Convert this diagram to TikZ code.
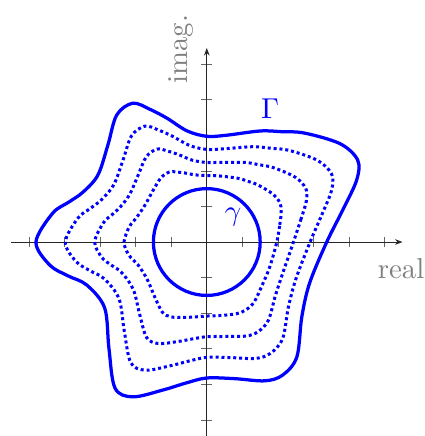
\documentclass[tikz,border=0pt]{standalone}
\usetikzlibrary{arrows.meta}
\tikzset{
  axisline/.style={line width=0.8pt, black!85, -{Stealth[length=6pt,width=4.5pt]}},
  ticklines/.style={line width=0.5pt, black!60},
  contour/.style={blue, line width=2.6pt},
  interp/.style={blue, line width=2.4pt, dash pattern=on 2.4pt off 2.3pt},
  axlabel/.style={black!50, scale=2.3, inner sep=0pt},
  curvelabel/.style={blue, scale=2.3, inner sep=0pt},
}
% point of Gamma, radially interpolated towards the circle of radius 1.5
\newcommand\Gpt[3]{({#1*(#3+1.5*(1-#3)/veclen(#1,#2))},{#2*(#3+1.5*(1-#3)/veclen(#1,#2))})}
\newcommand\Gpts[1]{%
  \Gpt{3.37}{0}{#1} \Gpt{3.82}{0.90}{#1} \Gpt{4.21}{1.74}{#1} \Gpt{4.24}{2.30}{#1}
  \Gpt{3.75}{2.76}{#1} \Gpt{2.75}{3.06}{#1} \Gpt{2.1}{3.1}{#1} \Gpt{1.5}{3.12}{#1}
  \Gpt{0.55}{3.0}{#1} \Gpt{0}{2.97}{#1} \Gpt{-0.55}{3.12}{#1} \Gpt{-1.12}{3.48}{#1}
  \Gpt{-1.6}{3.73}{#1} \Gpt{-2.08}{3.9}{#1} \Gpt{-2.53}{3.57}{#1}
  \Gpt{-2.78}{2.72}{#1} \Gpt{-3.06}{1.88}{#1} \Gpt{-3.48}{1.40}{#1} \Gpt{-3.88}{1.12}{#1}
  \Gpt{-4.33}{0.81}{#1} \Gpt{-4.80}{0}{#1} \Gpt{-4.41}{-0.65}{#1} \Gpt{-3.9}{-0.95}{#1}
  \Gpt{-3.37}{-1.21}{#1} \Gpt{-2.87}{-1.85}{#1}
  \Gpt{-2.75}{-2.98}{#1} \Gpt{-2.58}{-4.10}{#1} \Gpt{-2.08}{-4.35}{#1} \Gpt{-1.24}{-4.16}{#1}
  \Gpt{-0.58}{-3.96}{#1} \Gpt{0}{-3.82}{#1} \Gpt{0.8}{-3.84}{#1} \Gpt{1.63}{-3.90}{#1}
  \Gpt{2.13}{-3.74}{#1} \Gpt{2.53}{-3.23}{#1}
  \Gpt{2.67}{-2.1}{#1} \Gpt{2.89}{-1.15}{#1}}
\newcommand\DrawGamAux[2]{\draw[#2] plot[smooth cycle, tension=0.55] coordinates {#1};}
\newcommand\DrawGam[2]{\edef\GamTmp{\Gpts{#1}}\expandafter\DrawGamAux\expandafter{\GamTmp}{#2}}
\begin{document}
\begin{tikzpicture}
\useasboundingbox (-5.81,-5.45) rectangle (6.12,6.80);
% axes
\coordinate (xs) at (-5.5,0);
\coordinate (xe) at (5.5,0);
\coordinate (ys) at (0,-5.6);
\coordinate (ye) at (0,5.45);
\foreach \i in {-5,-4,-3,-2,-1,1,2,3,4,5} {
  \draw[ticklines] (\i,-0.15) -- (\i,0.15);
  \draw[ticklines] (-0.15,\i) -- (0.15,\i);
}
\draw[axisline] (xs) -- (xe);
\draw[axisline] (ys) -- (ye);
% curves
\draw[contour] (0,0) circle (1.5);
\DrawGam{0.25}{interp}
\DrawGam{0.5}{interp}
\DrawGam{0.75}{interp}
\DrawGam{1}{contour}
% labels
\node[axlabel, anchor=base west] (re) at (4.79,-1.02) {real};
\node[axlabel, rotate=90, anchor=base] (im) at (-0.55,5.42) {imag.};
\node[curvelabel] (G) at (1.78,3.75) {$\Gamma$};
\node[curvelabel, anchor=base] (g) at (0.74,0.61) {$\gamma$};
\end{tikzpicture}
\end{document}
